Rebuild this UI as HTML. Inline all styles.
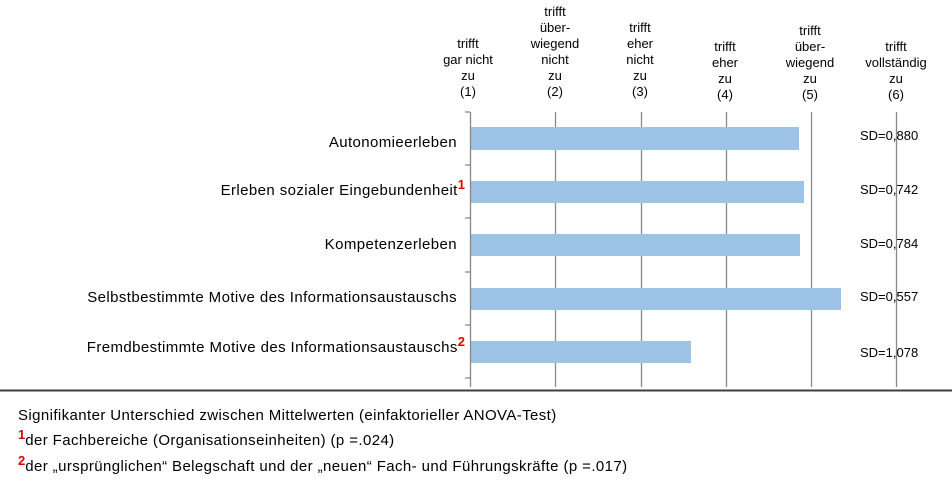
<!DOCTYPE html>
<html><head><meta charset="utf-8"><style>
body{margin:0;width:952px;height:487px;background:#fff;position:relative;overflow:hidden;font-family:"Liberation Sans",sans-serif;color:#000}
.h{position:absolute;width:100px;text-align:center;font-size:13px;line-height:16px}
.l{position:absolute;right:495px;font-size:15px;white-space:nowrap;text-align:right;letter-spacing:0.4px}
.sd{position:absolute;left:860px;font-size:13px}
.f{position:absolute;left:18px;font-size:15px;white-space:nowrap;letter-spacing:0.4px}
.r{color:#e00000;font-size:13px;font-weight:bold;position:relative;top:-6px;letter-spacing:0}
</style></head><body>
<div class="h" style="left:418px;top:36px">trifft<br>gar nicht<br>zu<br>(1)</div>
<div class="h" style="left:505px;top:4px">trifft<br>über-<br>wiegend<br>nicht<br>zu<br>(2)</div>
<div class="h" style="left:590px;top:20px">trifft<br>eher<br>nicht<br>zu<br>(3)</div>
<div class="h" style="left:675px;top:39px">trifft<br>eher<br>zu<br>(4)</div>
<div class="h" style="left:760px;top:23px">trifft<br>über-<br>wiegend<br>zu<br>(5)</div>
<div class="h" style="left:846px;top:39px">trifft<br>vollständig<br>zu<br>(6)</div>
<svg width="952" height="487" style="position:absolute;left:0;top:0">
<g stroke="#888" stroke-width="1.3">
<line x1="555.5" y1="112" x2="555.5" y2="387"/>
<line x1="641.5" y1="112" x2="641.5" y2="387"/>
<line x1="726.5" y1="112" x2="726.5" y2="387"/>
<line x1="811.5" y1="112" x2="811.5" y2="387"/>
<line x1="896.5" y1="112" x2="896.5" y2="387"/>
</g>
<g fill="#9dc3e6">
<rect x="471" y="127" width="328" height="23"/>
<rect x="471" y="181" width="333" height="22"/>
<rect x="471" y="234" width="329" height="22"/>
<rect x="471" y="288" width="370" height="22"/>
<rect x="471" y="341" width="220" height="22"/>
</g>
<g stroke="#888" stroke-width="1.3">
<line x1="470.5" y1="112" x2="470.5" y2="387"/>
<line x1="465" y1="112" x2="470" y2="112"/>
<line x1="465" y1="165" x2="470" y2="165"/>
<line x1="465" y1="218" x2="470" y2="218"/>
<line x1="465" y1="272" x2="470" y2="272"/>
<line x1="465" y1="325" x2="470" y2="325"/>
<line x1="465" y1="378" x2="470" y2="378"/>
</g>
<line x1="0" y1="390.5" x2="952" y2="390.5" stroke="#404040" stroke-width="2"/>
</svg>
<div class="l" style="top:134px">Autonomieerleben</div>
<div class="l" style="top:182px;right:487px">Erleben sozialer Eingebundenheit<span class="r">1</span></div>
<div class="l" style="top:236px">Kompetenzerleben</div>
<div class="l" style="top:289px">Selbstbestimmte Motive des Informationsaustauschs</div>
<div class="l" style="top:339px;right:487px">Fremdbestimmte Motive des Informationsaustauschs<span class="r">2</span></div>
<div class="sd" style="top:128px">SD=0,880</div>
<div class="sd" style="top:182px">SD=0,742</div>
<div class="sd" style="top:236px">SD=0,784</div>
<div class="sd" style="top:289px">SD=0,557</div>
<div class="sd" style="top:345px">SD=1,078</div>
<div class="f" style="top:407px">Signifikanter Unterschied zwischen Mittelwerten (einfaktorieller ANOVA-Test)</div>
<div class="f" style="top:432px"><span class="r">1</span>der Fachbereiche (Organisationseinheiten) (p =.024)</div>
<div class="f" style="top:458px"><span class="r">2</span>der „ursprünglichen“ Belegschaft und der „neuen“ Fach- und Führungskräfte (p =.017)</div>
</body></html>
